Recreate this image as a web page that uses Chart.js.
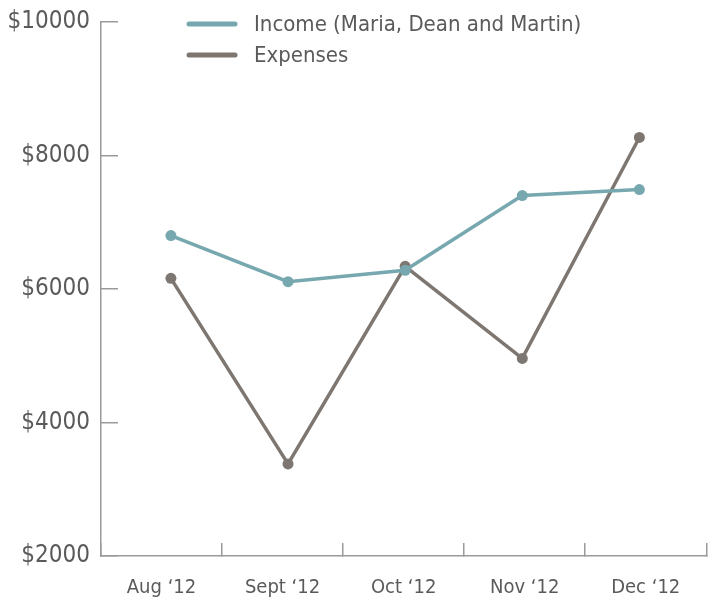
<!DOCTYPE html>
<html>
<head>
<meta charset="utf-8">
<script src="https://cdn.jsdelivr.net/npm/chart.js@4/dist/chart.umd.min.js"></script>
<style>
  html, body { margin: 0; padding: 0; background: #fff; }
  #wrap { width: 714px; height: 601px; }
</style>
</head>
<body>
<div id="wrap"><canvas id="chart" width="714" height="601"></canvas></div>
<script>
const months = ['Aug \u201812', 'Sept \u201812', 'Oct \u201812', 'Nov \u201812', 'Dec \u201812'];
const income = [6800, 6110, 6280, 7400, 7490];
const expenses = [6160, 3380, 6340, 4960, 8270];
const yTicks = [2000, 4000, 6000, 8000, 10000];

const FONT = "'Liberation Sans Narrow', 'DejaVu Sans Condensed', 'Roboto Condensed', sans-serif";
const TEXT = '#5a5a5a';
const AXIS = '#9a9a9a';

// legend sits inside the plot area, top-middle
const insideLegend = {
  id: 'insideLegend',
  afterDraw(chart) {
    const ctx = chart.ctx;
    ctx.save();
    chart.data.datasets.forEach((ds, i) => {
      const y = 24 + i * 31;
      ctx.strokeStyle = ds.borderColor;
      ctx.lineWidth = 5;
      ctx.lineCap = 'round';
      ctx.beginPath();
      ctx.moveTo(189, y);
      ctx.lineTo(235, y);
      ctx.stroke();
      ctx.fillStyle = TEXT;
      ctx.font = '22px ' + FONT;
      ctx.textBaseline = 'middle';
      ctx.textAlign = 'left';
      ctx.fillText(ds.label, 254, y + 1);
    });
    ctx.restore();
  }
};

const toPoints = arr => arr.map((v, i) => ({ x: i, y: v }));

new Chart(document.getElementById('chart'), {
  type: 'line',
  data: {
    labels: months,
    datasets: [
      {
        label: 'Income (Maria, Dean and Martin)',
        data: toPoints(income),
        xAxisID: 'xp',
        borderColor: '#77a8af',
        backgroundColor: '#77a8af',
        borderWidth: 3.5,
        pointRadius: 5.5,
        pointBorderWidth: 0,
        tension: 0
      },
      {
        label: 'Expenses',
        data: toPoints(expenses),
        xAxisID: 'xp',
        borderColor: '#7e7771',
        backgroundColor: '#7e7771',
        borderWidth: 3.5,
        pointRadius: 5.5,
        pointBorderWidth: 0,
        tension: 0
      }
    ]
  },
  options: {
    responsive: false,
    animation: false,
    layout: { padding: { top: 22, right: 7, bottom: 0, left: 0 } },
    plugins: {
      legend: { display: false },
      tooltip: { enabled: false }
    },
    scales: {
      x: {
        type: 'category',
        offset: true,
        grid: {
          offset: true,
          drawOnChartArea: false,
          color: AXIS,
          tickLength: -13,
          lineWidth: 1.5
        },
        border: { color: AXIS, width: 1.5 },
        ticks: {
          color: TEXT,
          font: { family: FONT, size: 20 },
          padding: 33,
          maxRotation: 0
        },
        afterFit(scale) { scale.height = 45; }
      },
      xp: {
        type: 'linear',
        display: false,
        min: -0.597,
        max: 4.571
      },
      y: {
        min: 2000,
        max: 10000,
        afterBuildTicks(scale) { scale.ticks = yTicks.map(v => ({ value: v })); },
        grid: {
          drawOnChartArea: false,
          color: AXIS,
          tickLength: -17,
          lineWidth: 1.5
        },
        border: { color: AXIS, width: 1.5 },
        ticks: {
          color: TEXT,
          font: { family: FONT, size: 24 },
          padding: 28,
          callback: v => '$' + v
        },
        afterFit(scale) {
          scale.width = 101;
          scale.paddingTop = 0;
          scale.paddingBottom = 0;
        }
      }
    }
  },
  plugins: [insideLegend]
});
</script>
</body>
</html>
